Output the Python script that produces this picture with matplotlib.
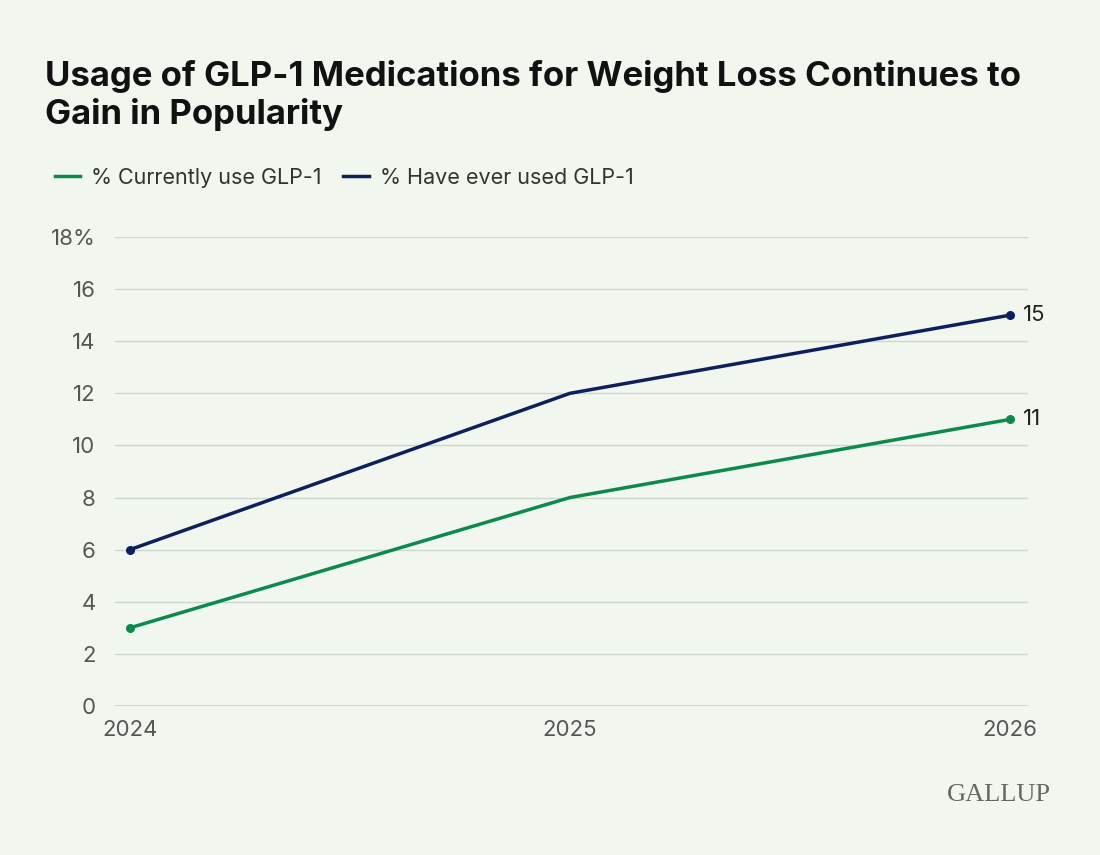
import matplotlib.pyplot as plt
from matplotlib.lines import Line2D

years = [2024, 2025, 2026]
current_use = [3, 8, 11]
ever_used = [6, 12, 15]
y_ticks = [0, 2, 4, 6, 8, 10, 12, 14, 16, 18]
y_labels = ["0", "2", "4", "6", "8", "10", "12", "14", "16", "18%"]

bg = "#f1f7ef"
green = "#0b8a4b"
navy = "#0d1f5c"
grey = "#555555"

plt.rcParams['font.family'] = ['Inter', 'DejaVu Sans']

fig = plt.figure(figsize=(11, 8.55), dpi=100, facecolor=bg)
ax = fig.add_axes([0.1045, 0.1743, 0.83, 0.5485], facecolor=bg)

ax.plot(years, ever_used, color=navy, lw=2.5, zorder=3)
ax.plot(years, current_use, color=green, lw=2.5, zorder=3)
ax.scatter([years[0], years[-1]], [ever_used[0], ever_used[-1]], color=navy, s=30, zorder=4)
ax.scatter([years[0], years[-1]], [current_use[0], current_use[-1]], color=green, s=30, zorder=4)
ax.text(years[-1] + 0.03, ever_used[-1], str(ever_used[-1]), fontsize=16, va="center", color="#222222")
ax.text(years[-1] + 0.03, current_use[-1], str(current_use[-1]), fontsize=16, va="center", color="#222222")

ax.set_xlim(2023.966, 2026.041)
ax.set_ylim(0, 18)
ax.set_yticks(y_ticks)
ax.set_yticklabels(y_labels)
ax.set_xticks(years)
ax.set_xticklabels([str(y) for y in years])
ax.tick_params(length=0, labelsize=16, labelcolor=grey)
ax.tick_params(axis="y", pad=14)
ax.tick_params(axis="x", pad=10)
ax.grid(axis="y", color="#cfd6cd", lw=1)
ax.axhline(0, color="#666666", lw=1)
for s in ax.spines.values():
    s.set_visible(False)
ax.set_axisbelow(True)

fig.text(0.041, 0.93, "Usage of GLP-1 Medications for Weight Loss Continues to\nGain in Popularity",
         fontsize=25, fontweight="bold", va="top", linespacing=1.2, color="#111111")

handles = [Line2D([], [], color=green, lw=2.5), Line2D([], [], color=navy, lw=2.5)]
fig.legend(handles, ["% Currently use GLP-1", "% Have ever used GLP-1"], loc="center left",
           bbox_to_anchor=(0.032, 0.792), frameon=False, ncol=2, fontsize=15.5,
           handlelength=1.2, handletextpad=0.5, columnspacing=1.0, labelcolor="#333333")

fig.text(0.955, 0.07, "GALLUP", family="Liberation Serif", fontsize=19, color="#666666",
         ha="right", va="center")

fig.savefig("out.png", facecolor=bg)
